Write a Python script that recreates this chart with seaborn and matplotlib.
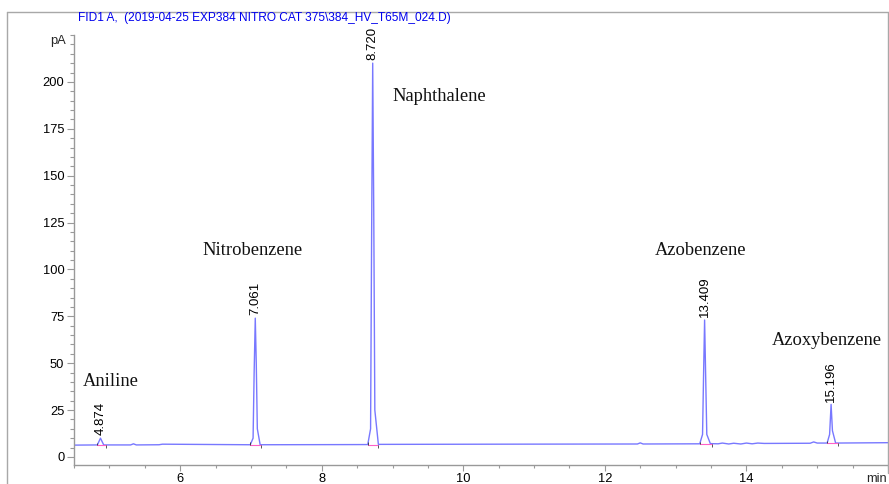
import matplotlib
matplotlib.use("Agg")
import matplotlib.pyplot as plt
from matplotlib.lines import Line2D
from matplotlib.ticker import MultipleLocator
import seaborn as sns
import pandas as pd

# ---------------- data ----------------
time_min = [4.50, 4.83, 4.874, 4.92, 5.30, 5.34, 5.38, 5.70, 5.75, 6.99, 7.03, 7.045, 7.061, 7.075, 7.09, 7.13,
            8.65, 8.69, 8.705, 8.720, 8.735, 8.75, 8.80, 10.5, 12.46, 12.50, 12.54,
            13.34, 13.38, 13.395, 13.409, 13.423, 13.44, 13.49, 13.60, 13.66, 13.75, 13.82, 13.92, 14.00, 14.08,
            14.16, 14.25, 14.90, 14.95, 15.00, 15.14, 15.175, 15.196, 15.215, 15.26, 16.00]
signal_pA = [6.3, 6.4, 10.0, 6.4, 6.4, 7.0, 6.4, 6.5, 6.8, 6.5, 10.0, 45.0, 74.0, 50.0, 15.0, 6.5,
             6.6, 15.0, 120.0, 210.0, 130.0, 25.0, 6.7, 6.8, 6.9, 7.5, 6.9,
             7.0, 12.0, 45.0, 73.0, 45.0, 12.0, 7.1, 7.0, 7.4, 6.9, 7.3, 6.9, 7.4, 7.0,
             7.4, 7.2, 7.3, 8.0, 7.4, 7.4, 12.0, 28.0, 14.0, 7.4, 7.6]

peak_rt = [4.874, 7.061, 8.720, 13.409, 15.196]
peak_top = [10.0, 74.0, 210.0, 73.0, 28.0]
peak_rt_labels = ["4.874", "7.061", "8.720", "13.409", "15.196"]
peak_start = [4.83, 6.99, 8.65, 13.34, 15.14]
peak_end = [4.95, 7.14, 8.79, 13.51, 15.29]
peak_base = [6.4, 6.5, 6.6, 7.0, 7.4]

compound_names = ["Aniline", "Nitrobenzene", "Naphthalene", "Azobenzene", "Azoxybenzene"]
compound_x = [4.62, 6.32, 9.00, 12.71, 14.36]
compound_y = [40.0, 110.0, 192.0, 110.0, 62.0]

y_major = [0, 25, 50, 75, 100, 125, 150, 175, 200]
x_major = [6, 8, 10, 12, 14]

title_text = "FID1 A,  (2019-04-25 EXP384 NITRO CAT 375\\384_HV_T65M_024.D)"

# ---------------- figure ----------------
sns.set_style("ticks")
plt.rcParams["font.family"] = ["Liberation Sans", "DejaVu Sans"]

W, H = 889, 484
fig = plt.figure(figsize=(W / 100, H / 100), dpi=100)
ax = fig.add_axes([74 / W, (H - 465) / H, (888 - 74) / W, (465 - 35) / H])

df = pd.DataFrame({"time": time_min, "signal": signal_pA})
sns.lineplot(data=df, x="time", y="signal", ax=ax, color="#7878ff", linewidth=1.0,
             estimator=None, sort=False)

# integration baselines and marks
for s, e, b in zip(peak_start, peak_end, peak_base):
    ax.plot([s, e], [b, b], color="#ff60c8", linewidth=0.8, zorder=3)
    ax.vlines(e, b - 1.8, b, color="#555555", linewidth=0.7, zorder=3)
    ax.vlines(s, b - 0.2, b + 1.2, color="#333333", linewidth=0.6, zorder=3)

# peak retention time labels
for rt, top, lab in zip(peak_rt, peak_top, peak_rt_labels):
    ax.text(rt, top + 1.5, lab, rotation=90, ha="center", va="bottom", fontsize=9.5, color="black")

# compound names
for name, x, y in zip(compound_names, compound_x, compound_y):
    ax.text(x, y, name, fontsize=13.3, family=["Liberation Serif", "DejaVu Serif"], color="#111111",
            ha="left", va="center")

ax.set_xlim(4.5, 16.0)
ax.set_ylim(-4.3, 225)
ax.set_xticks(x_major)
ax.set_yticks(y_major)
ax.xaxis.set_minor_locator(MultipleLocator(0.5))
ax.yaxis.set_minor_locator(MultipleLocator(5))
ax.set_xlabel("")
ax.set_ylabel("")
for side in ["top", "right"]:
    ax.spines[side].set_visible(False)
for side in ["left", "bottom"]:
    ax.spines[side].set_color("#999999")
    ax.spines[side].set_linewidth(1.0)
ax.tick_params(axis="both", which="major", length=5, width=0.8, color="#999999", labelsize=9.3, labelcolor="black", pad=2)
ax.tick_params(axis="both", which="minor", length=3, width=0.8, color="#999999")
ax.tick_params(axis="x", which="major", length=4)
ax.tick_params(axis="x", which="minor", length=2.5)
ax.set_facecolor("white")

# axis unit labels
fig.text(66 / W, 1 - 41 / H, "pA", ha="right", va="center", fontsize=9.3)
fig.text(887 / W, 1 - 479 / H, "min", ha="right", va="center", fontsize=9.3)

# title
fig.text(78 / W, 1 - 18 / H, title_text, ha="left", va="center", fontsize=8.6, color="#0000ee")

# outer frame
frame_kw = dict(color="#a8a8a8", linewidth=1.0, transform=fig.transFigure)
fig.add_artist(Line2D([7 / W, 7 / W], [0, 1 - 12 / H], **frame_kw))
fig.add_artist(Line2D([7 / W, 888 / W], [1 - 12 / H, 1 - 12 / H], **frame_kw))
fig.add_artist(Line2D([888 / W, 888 / W], [1 - 12 / H, 1 - 473 / H], **frame_kw))

fig.savefig("out.png", dpi=100, facecolor="white")
